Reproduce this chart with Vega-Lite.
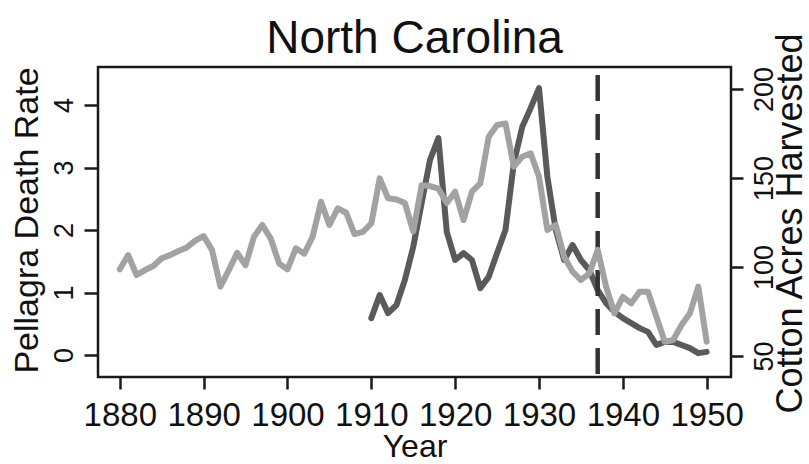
{
  "$schema": "https://vega.github.io/schema/vega-lite/v6.json",
  "width": 633,
  "height": 310,
  "autosize": {"type": "none"},
  "padding": {"left": 98, "top": 67, "right": 78, "bottom": 87},
  "background": "white",
  "config": {
    "view": {"stroke": "#1a1a1a", "strokeWidth": 2.5},
    "font": "Liberation Sans",
    "axis": {
      "domain": false,
      "grid": false,
      "tickColor": "#1a1a1a",
      "tickWidth": 2.5,
      "labelColor": "#111111",
      "titleColor": "#111111",
      "labelFont": "Liberation Sans",
      "titleFont": "Liberation Sans",
      "titleFontWeight": "normal"
    }
  },
  "title": {
    "text": "North Carolina",
    "fontSize": 46,
    "font": "Liberation Sans",
    "fontWeight": "normal",
    "color": "#111111",
    "frame": "group",
    "anchor": "middle",
    "baseline": "alphabetic",
    "offset": -23,
    "dy": 44
  },
  "datasets": {
    "pellagra": [
      {"year": 1910, "rate": 0.59}, {"year": 1911, "rate": 0.96}, {"year": 1912, "rate": 0.67},
      {"year": 1913, "rate": 0.80}, {"year": 1914, "rate": 1.20}, {"year": 1915, "rate": 1.73},
      {"year": 1916, "rate": 2.43}, {"year": 1917, "rate": 3.12}, {"year": 1918, "rate": 3.47},
      {"year": 1919, "rate": 1.97}, {"year": 1920, "rate": 1.52}, {"year": 1921, "rate": 1.63},
      {"year": 1922, "rate": 1.52}, {"year": 1923, "rate": 1.07}, {"year": 1924, "rate": 1.25},
      {"year": 1925, "rate": 1.63}, {"year": 1926, "rate": 2.0}, {"year": 1927, "rate": 3.07},
      {"year": 1928, "rate": 3.65}, {"year": 1929, "rate": 3.95}, {"year": 1930, "rate": 4.27},
      {"year": 1931, "rate": 2.85}, {"year": 1932, "rate": 2.0}, {"year": 1933, "rate": 1.52},
      {"year": 1934, "rate": 1.76}, {"year": 1935, "rate": 1.52}, {"year": 1936, "rate": 1.36},
      {"year": 1937, "rate": 1.04}, {"year": 1938, "rate": 0.83}, {"year": 1939, "rate": 0.69},
      {"year": 1940, "rate": 0.59}, {"year": 1941, "rate": 0.51}, {"year": 1942, "rate": 0.43},
      {"year": 1943, "rate": 0.37}, {"year": 1944, "rate": 0.16}, {"year": 1945, "rate": 0.21},
      {"year": 1946, "rate": 0.21}, {"year": 1947, "rate": 0.16}, {"year": 1948, "rate": 0.11},
      {"year": 1949, "rate": 0.03}, {"year": 1950, "rate": 0.05}
    ],
    "cotton": [
      {"year": 1880, "acres": 98.7}, {"year": 1881, "acres": 106.7}, {"year": 1882, "acres": 95.5},
      {"year": 1883, "acres": 98.3}, {"year": 1884, "acres": 100.6}, {"year": 1885, "acres": 104.9},
      {"year": 1886, "acres": 106.7}, {"year": 1887, "acres": 109.0}, {"year": 1888, "acres": 111.0},
      {"year": 1889, "acres": 114.8}, {"year": 1890, "acres": 117.4}, {"year": 1891, "acres": 109.5},
      {"year": 1892, "acres": 89.0}, {"year": 1893, "acres": 98.3}, {"year": 1894, "acres": 108.0},
      {"year": 1895, "acres": 101.0}, {"year": 1896, "acres": 117.0}, {"year": 1897, "acres": 123.6},
      {"year": 1898, "acres": 116.0}, {"year": 1899, "acres": 102.0}, {"year": 1900, "acres": 98.7},
      {"year": 1901, "acres": 110.5}, {"year": 1902, "acres": 107.5}, {"year": 1903, "acres": 117.0},
      {"year": 1904, "acres": 136.7}, {"year": 1905, "acres": 123.6}, {"year": 1906, "acres": 133.0},
      {"year": 1907, "acres": 130.5}, {"year": 1908, "acres": 118.5}, {"year": 1909, "acres": 119.8},
      {"year": 1910, "acres": 124.5}, {"year": 1911, "acres": 149.8}, {"year": 1912, "acres": 138.6},
      {"year": 1913, "acres": 138.0}, {"year": 1914, "acres": 136.0}, {"year": 1915, "acres": 120.0},
      {"year": 1916, "acres": 146.0}, {"year": 1917, "acres": 145.5}, {"year": 1918, "acres": 144.0},
      {"year": 1919, "acres": 136.0}, {"year": 1920, "acres": 142.3}, {"year": 1921, "acres": 126.4},
      {"year": 1922, "acres": 142.3}, {"year": 1923, "acres": 147.0}, {"year": 1924, "acres": 173.2},
      {"year": 1925, "acres": 179.8}, {"year": 1926, "acres": 180.7}, {"year": 1927, "acres": 156.4},
      {"year": 1928, "acres": 162.0}, {"year": 1929, "acres": 163.9}, {"year": 1930, "acres": 150.7},
      {"year": 1931, "acres": 120.8}, {"year": 1932, "acres": 123.6}, {"year": 1933, "acres": 105.8},
      {"year": 1934, "acres": 97.4}, {"year": 1935, "acres": 92.7}, {"year": 1936, "acres": 96.4},
      {"year": 1937, "acres": 109.6}, {"year": 1938, "acres": 89.0}, {"year": 1939, "acres": 74.0},
      {"year": 1940, "acres": 83.3}, {"year": 1941, "acres": 79.6}, {"year": 1942, "acres": 86.1},
      {"year": 1943, "acres": 86.1}, {"year": 1944, "acres": 72.1}, {"year": 1945, "acres": 58.0},
      {"year": 1946, "acres": 59.0}, {"year": 1947, "acres": 67.4}, {"year": 1948, "acres": 74.0},
      {"year": 1949, "acres": 89.0}, {"year": 1950, "acres": 58.0}
    ],
    "marker": [{"year": 1937}]
  },
  "encoding": {
    "x": {
      "field": "year",
      "type": "quantitative",
      "scale": {"domain": [1877.4, 1952.9], "nice": false, "zero": false},
      "axis": {
        "values": [1880, 1890, 1900, 1910, 1920, 1930, 1940, 1950],
        "format": "d",
        "tickSize": 12,
        "labelPadding": 10,
        "labelFontSize": 33,
        "labelAngle": 0,
        "labelOverlap": false,
        "labelFlush": false,
        "title": "Year",
        "titleFontSize": 32,
        "titleY": 79,
        "titleBaseline": "alphabetic"
      }
    }
  },
  "layer": [
    {
      "data": {"name": "pellagra"},
      "mark": {"type": "line", "color": "#5a5a5a", "strokeWidth": 6, "strokeJoin": "round", "strokeCap": "round"},
      "encoding": {
        "y": {
          "field": "rate",
          "type": "quantitative",
          "scale": {"domain": [-0.352, 4.608], "nice": false, "zero": false},
          "axis": {
            "orient": "left",
            "values": [0, 1, 2, 3, 4],
            "tickSize": 14,
            "labelAngle": 270,
            "labelAlign": "center",
            "labelBaseline": "alphabetic",
            "labelPadding": 12,
            "labelFontSize": 27,
            "title": "Pellagra Death Rate",
            "titleFontSize": 34,
            "titleAngle": 270,
            "titleX": -61,
            "titleY": 153,
            "titleAlign": "center",
            "titleBaseline": "alphabetic"
          }
        }
      }
    },
    {
      "data": {"name": "marker"},
      "mark": {"type": "rule", "color": "#333333", "strokeWidth": 4.5, "strokeDash": [26, 13], "strokeDashOffset": -8},
      "encoding": {}
    },
    {
      "data": {"name": "cotton"},
      "mark": {"type": "line", "color": "#a2a2a2", "strokeWidth": 6, "strokeJoin": "round", "strokeCap": "round"},
      "encoding": {
        "y": {
          "field": "acres",
          "type": "quantitative",
          "scale": {"domain": [38.2, 212.4], "nice": false, "zero": false},
          "axis": {
            "orient": "right",
            "values": [50, 100, 150, 200],
            "tickSize": 12,
            "labelAngle": 270,
            "labelAlign": "center",
            "labelBaseline": "top",
            "labelPadding": 8,
            "labelFontSize": 27,
            "title": "Cotton Acres Harvested",
            "titleFontSize": 36,
            "titleAngle": 270,
            "titleX": 70,
            "titleY": 156,
            "titleAlign": "center",
            "titleBaseline": "alphabetic"
          }
        }
      }
    }
  ],
  "resolve": {"scale": {"y": "independent"}, "axis": {"y": "independent"}}
}
